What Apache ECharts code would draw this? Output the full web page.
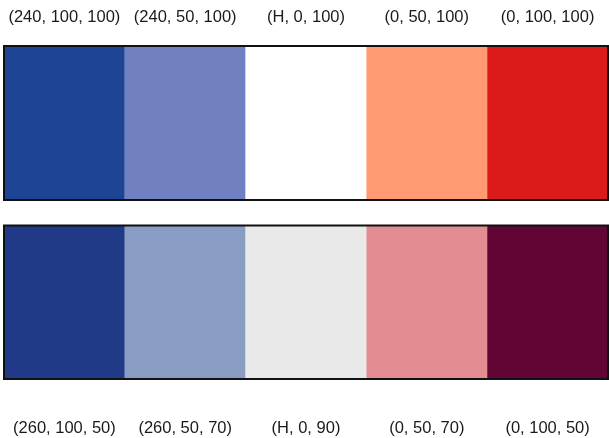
<!DOCTYPE html>
<html><head><meta charset="utf-8">
<script src="https://cdn.jsdelivr.net/npm/echarts@6/dist/echarts.min.js"></script>
<style>html,body{margin:0;padding:0;background:#fff}#c{width:609px;height:438px}</style>
</head><body><div id="c"></div>
<script>
const topLabels = ['(240, 100, 100)', '(240, 50, 100)', '(H, 0, 100)', '(0, 50, 100)', '(0, 100, 100)'];
const topColors = ['#1E4496', '#7080C0', '#FFFFFF', '#FF9A73', '#DB1B19'];
const bottomLabels = ['(260, 100, 50)', '(260, 50, 70)', '(H, 0, 90)', '(0, 50, 70)', '(0, 100, 50)'];
const bottomColors = ['#213A87', '#899CC3', '#E8E9E8', '#E28D91', '#610634'];
const fillValue = [1, 1, 1, 1, 1];

const chart = echarts.init(document.getElementById('c'), null, {renderer: 'canvas'});
const labelStyle = {color: '#1a1a1a', fontSize: 16.5, fontFamily: 'Liberation Sans, Arial, sans-serif'};
function xAx(idx, labels, pos, margin) {
  return {type: 'category', gridIndex: idx, data: labels, position: pos,
    axisLine: {show: false}, axisTick: {show: false}, splitLine: {show: false},
    axisLabel: Object.assign({margin: margin, interval: 0}, labelStyle)};
}
function yAx(idx) {
  return {type: 'value', gridIndex: idx, min: 0, max: 1, show: false, splitLine: {show: false}};
}
function ser(idx, colors) {
  return {type: 'bar', xAxisIndex: idx, yAxisIndex: idx, barWidth: '100%', barCategoryGap: '0%',
    animation: false, silent: true,
    data: fillValue.map((v, i) => ({value: v, itemStyle: {color: colors[i]}}))};
}
chart.setOption({
  animation: false,
  grid: [
    {left: 4, right: 1, top: 46, height: 154, show: true, z: 5, backgroundColor: 'transparent', borderColor: '#111', borderWidth: 2},
    {left: 4, right: 1, top: 225.5, height: 153.5, show: true, z: 5, backgroundColor: 'transparent', borderColor: '#111', borderWidth: 2}
  ],
  xAxis: [xAx(0, topLabels, 'top', 20), xAx(1, bottomLabels, 'bottom', 41)],
  yAxis: [yAx(0), yAx(1)],
  series: [ser(0, topColors), ser(1, bottomColors)]
});
</script></body></html>
